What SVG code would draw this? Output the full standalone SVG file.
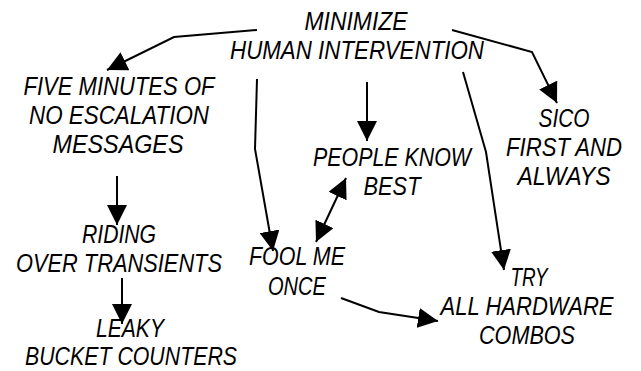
<svg xmlns="http://www.w3.org/2000/svg" width="641" height="371" viewBox="0 0 641 371">
<style>
text{font-family:"Liberation Sans",Arial,sans-serif;font-style:italic;font-size:25px;fill:#000;text-anchor:middle}
.c{fill:none;stroke:#000;stroke-width:2}
</style>
<defs>
<marker id="ah" markerUnits="userSpaceOnUse" markerWidth="20" markerHeight="20" viewBox="0 0 20 20" refX="20" refY="10" orient="auto-start-reverse">
<path d="M0,0 L20,10 L0,20 z" fill="#000"/>
</marker>
</defs>
<rect width="641" height="371" fill="#fff"/>
<g id="connectors">
<path class="c" d="M257,30 L174,37 L107,70" marker-end="url(#ah)"/>
<path class="c" d="M452,30 L532,52 L557,103" marker-end="url(#ah)"/>
<path class="c" d="M367,82 L367,141" marker-end="url(#ah)"/>
<path class="c" d="M257,79 L255,149 L273,251" marker-end="url(#ah)"/>
<path class="c" d="M316,242 L346,178" marker-start="url(#ah)" marker-end="url(#ah)"/>
<path class="c" d="M463,72 L484,145 L486,152 L504,270" marker-end="url(#ah)"/>
<path class="c" d="M341,298 L379,312 L438,321" marker-end="url(#ah)"/>
<path class="c" d="M117,176 L117,225" marker-end="url(#ah)"/>
<path class="c" d="M122,278 L122,324" marker-end="url(#ah)"/>
</g>
<g id="minimize">
<text x="356" y="30" textLength="103" lengthAdjust="spacingAndGlyphs">MINIMIZE</text>
<text x="357" y="59" textLength="254" lengthAdjust="spacingAndGlyphs">HUMAN INTERVENTION</text>
</g>
<g id="five-minutes">
<text x="119" y="95" textLength="191" lengthAdjust="spacingAndGlyphs">FIVE MINUTES OF</text>
<text x="119" y="124" textLength="180" lengthAdjust="spacingAndGlyphs">NO ESCALATION</text>
<text x="118" y="153" textLength="131" lengthAdjust="spacingAndGlyphs">MESSAGES</text>
</g>
<g id="sico">
<text x="564" y="127" textLength="51" lengthAdjust="spacingAndGlyphs">SICO</text>
<text x="564" y="156" textLength="116" lengthAdjust="spacingAndGlyphs">FIRST AND</text>
<text x="564" y="185" textLength="93" lengthAdjust="spacingAndGlyphs">ALWAYS</text>
</g>
<g id="people">
<text x="392" y="166" textLength="158" lengthAdjust="spacingAndGlyphs">PEOPLE KNOW</text>
<text x="392" y="195" textLength="57" lengthAdjust="spacingAndGlyphs">BEST</text>
</g>
<g id="fool">
<text x="297" y="265" textLength="96" lengthAdjust="spacingAndGlyphs">FOOL ME</text>
<text x="297" y="295" textLength="58" lengthAdjust="spacingAndGlyphs">ONCE</text>
</g>
<g id="riding">
<text x="119" y="243" textLength="74" lengthAdjust="spacingAndGlyphs">RIDING</text>
<text x="119" y="272" textLength="206" lengthAdjust="spacingAndGlyphs">OVER TRANSIENTS</text>
</g>
<g id="leaky">
<text x="130" y="337" textLength="68" lengthAdjust="spacingAndGlyphs">LEAKY</text>
<text x="131" y="365" textLength="212" lengthAdjust="spacingAndGlyphs">BUCKET COUNTERS</text>
</g>
<g id="try">
<text x="529" y="286" textLength="37" lengthAdjust="spacingAndGlyphs">TRY</text>
<text x="527" y="315" textLength="173" lengthAdjust="spacingAndGlyphs">ALL HARDWARE</text>
<text x="527" y="344" textLength="96" lengthAdjust="spacingAndGlyphs">COMBOS</text>
</g>
</svg>
